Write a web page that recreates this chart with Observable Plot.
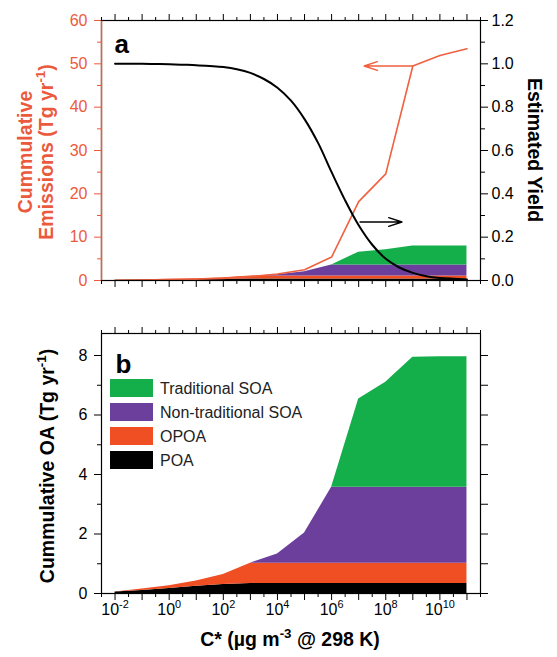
<!DOCTYPE html>
<html><head><meta charset="utf-8">
<script src="https://cdn.jsdelivr.net/npm/d3@7"></script>
<script src="https://cdn.jsdelivr.net/npm/@observablehq/plot@0.6"></script>
<style>
body{margin:0;background:#fff;}
#chart{position:relative;width:557px;height:657px;font-family:"Liberation Sans",Arial,sans-serif;}
#chart svg{display:block;}
</style></head><body><div id="chart"></div>
<script>
// ---- data ----
const logC = [-2,-1,0,1,2,3,4,5,6,7,8,9,10,11];           // log10 C* (µg m-3)
const series = ["POA","OPOA","Non-traditional SOA","Traditional SOA"];
const poa   = [0.05,0.10,0.17,0.24,0.30,0.34,0.34,0.34,0.34,0.34,0.34,0.34,0.34,0.34];
const opoa  = [0.00,0.05,0.09,0.18,0.34,0.68,0.68,0.68,0.68,0.68,0.68,0.68,0.68,0.68];
const ntsoa = [0,0,0,0,0,0,0.31,1.01,2.55,2.55,2.55,2.55,2.55,2.55];
const tsoa  = [0,0,0,0,0,0,0,0,0,2.97,3.53,4.37,4.39,4.39];
const emissions = [0.05,0.12,0.2,0.3,0.5,0.9,1.5,2.5,5.4,18.2,24.6,49.5,51.9,53.5]; // Tg/yr
const yieldLogC = [-2,-1.5,-1,-0.5,0,0.5,1,1.5,2,2.5,3,3.5,4,4.5,5,5.5,6,6.5,7,7.5,8,8.5,9,9.5,10,10.5,11];
const yieldVals = [1,1,1,0.999,0.998,0.996,0.994,0.99,0.985,0.975,0.958,0.93,0.89,0.83,0.745,0.635,0.5,0.37,0.255,0.165,0.1,0.06,0.035,0.02,0.012,0.008,0.005];
const emisArrow  = [{x1: 1e9, x2: 10**7.2, y: 49.5}];     // Tg/yr axis
const yieldArrow = [{x1: 10**7.05, x2: 10**8.6, y: 0.27}]; // yield axis
const colors = ["#000000","#f04e23","#6c3f9c","#14ae4b"];
const legendOrder = ["Traditional SOA","Non-traditional SOA","OPOA","POA"];
const emisTicks = [0,10,20,30,40,50,60];
const emisMinor = [5,15,25,35,45,55];
const yieldTicks = [0,0.2,0.4,0.6,0.8,1.0,1.2];
const yieldMinor = [0.1,0.3,0.5,0.7,0.9,1.1];
const oaTicks = [0,2,4,6,8];
const oaMinor = [1,3,5,7];
const decadeExp = d3.range(-2, 12);
const halfExp = d3.range(-2.5, 11.51, 1);

// ---- derived tables ----
const vals = [poa, opoa, ntsoa, tsoa];
const stacked = series.flatMap((s,i) => logC.map((e,j) => ({C: 10**e, series: s, value: vals[i][j]})));
const emisRows = logC.map((e,j) => ({C: 10**e, v: emissions[j]}));
const yieldScale = 60/1.2;
const yieldRows = yieldLogC.map((e,j) => ({C: 10**e, v: yieldVals[j]*yieldScale}));
const decades = decadeExp.map(e => 10**e);
const halves = halfExp.map(e => 10**e);
const xDomain = [10**-2.5, 10**11.5];
const orange = "#eb5a3c";
const font = "Liberation Sans, Arial, sans-serif";
const tickFs = 16, titleFs = 19.5;

function xAxes(anchor, labels) {
  return [
    Plot.axisX(decades, {anchor, tickSize: 7, tickPadding: 3, label: null, fontSize: tickFs,
      tickFormat: labels ? (d => { const e = Math.round(Math.log10(d)); return e % 2 === 0 ? "10^{" + e + "}" : ""; }) : (() => "")}),
    Plot.axisX(halves, {anchor, tickSize: 4, label: null, tickFormat: () => ""})
  ];
}

function setRich(textEl, str, fs) {
  while (textEl.firstChild) textEl.removeChild(textEl.firstChild);
  const parts = str.split(/(\^\{[^}]*\})/);
  let raised = false;
  for (const p of parts) {
    if (!p) continue;
    const t = document.createElementNS("http://www.w3.org/2000/svg", "tspan");
    if (p.startsWith("^{")) {
      t.textContent = p.slice(2, -1);
      t.setAttribute("font-size", (fs*0.68).toFixed(1));
      t.setAttribute("dy", (-fs*0.42).toFixed(1));
      raised = true;
    } else {
      t.textContent = p;
      if (raised) { t.setAttribute("dy", (fs*0.42).toFixed(1)); raised = false; }
    }
    textEl.appendChild(t);
  }
}
function richify(svg, fs) {
  d3.select(svg).selectAll("text").each(function() {
    const s = this.textContent;
    if (s.includes("^{")) setRich(this, s, fs);
  });
}
function addTitle(svg, str, x, y, rotate, fs, color) {
  const t = d3.select(svg).append("text")
    .attr("transform", `translate(${x},${y}) rotate(${rotate})`)
    .attr("text-anchor", "middle")
    .attr("font-family", font).attr("font-weight", "bold").attr("font-size", fs)
    .attr("fill", color);
  setRich(t.node(), str, fs);
}

// ---- panel a ----
const topPlot = Plot.plot({
  width: 557, height: 300, marginLeft: 101, marginRight: 77, marginTop: 20, marginBottom: 20,
  style: {fontFamily: font, fontSize: tickFs + "px", overflow: "visible", background: "white"},
  x: {type: "log", domain: xDomain, axis: null},
  y: {domain: [0, 60], axis: null},
  color: {domain: series, range: colors},
  marks: [
    Plot.areaY(stacked, {x: "C", y: "value", fill: "series", order: series}),
    Plot.line(emisRows, {x: "C", y: "v", stroke: "#f0603f", strokeWidth: 1.6}),
    Plot.line(yieldRows, {x: "C", y: "v", stroke: "black", strokeWidth: 2, curve: "catmull-rom"}),
    Plot.arrow(emisArrow, {x1: "x1", x2: "x2", y1: "y", y2: "y", stroke: "#f0603f", strokeWidth: 1.4, headLength: 15, headAngle: 36}),
    Plot.arrow(yieldArrow, {x1: "x1", x2: "x2", y1: d => d.y*yieldScale, y2: d => d.y*yieldScale, stroke: "black", strokeWidth: 1.4, headLength: 15, headAngle: 36}),
    Plot.frame({stroke: "black", strokeWidth: 1.2}),
    Plot.ruleX([xDomain[0]], {stroke: orange, strokeWidth: 1.4}),
    ...xAxes("top", false),
    ...xAxes("bottom", false),
    Plot.axisY(emisTicks, {anchor: "left", tickSize: 7, tickPadding: 7, label: null, color: orange, fontSize: tickFs}),
    Plot.axisY(emisMinor, {anchor: "left", tickSize: 4, label: null, color: orange, tickFormat: () => ""}),
    Plot.axisY(yieldTicks.map(v => v*yieldScale), {anchor: "right", tickSize: 7, tickPadding: 4, label: null, fontSize: tickFs, tickFormat: d => (d/yieldScale).toFixed(1)}),
    Plot.axisY(yieldMinor.map(v => v*yieldScale), {anchor: "right", tickSize: 4, label: null, tickFormat: () => ""}),
    Plot.text(["a"], {frameAnchor: "top-left", textAnchor: "start", lineAnchor: "top", dx: 13, dy: 14, fontSize: 26, fontWeight: "bold"})
  ]
});
addTitle(topPlot, "Cummulative", 32, 152, -90, titleFs, orange);
addTitle(topPlot, "Emissions (Tg yr^{-1})", 53, 152, -90, titleFs, orange);
addTitle(topPlot, "Estimated Yield", 528, 150, 90, titleFs, "black");

// ---- panel b ----
const botPlot = Plot.plot({
  width: 557, height: 357, marginLeft: 101, marginRight: 77, marginTop: 33, marginBottom: 64,
  style: {fontFamily: font, fontSize: tickFs + "px", overflow: "visible", background: "white"},
  x: {type: "log", domain: xDomain, axis: null},
  y: {domain: [0, 8.74], axis: null},
  color: {domain: series, range: colors},
  marks: [
    Plot.areaY(stacked, {x: "C", y: "value", fill: "series", order: series}),
    Plot.frame({stroke: "black", strokeWidth: 1.2}),
    ...xAxes("top", false),
    ...xAxes("bottom", true),
    Plot.axisY(oaTicks, {anchor: "left", tickSize: 7, tickPadding: 7, label: null, fontSize: tickFs}),
    Plot.axisY(oaMinor, {anchor: "left", tickSize: 4, label: null, tickFormat: () => ""}),
    Plot.axisY(oaTicks, {anchor: "right", tickSize: 7, label: null, tickFormat: () => ""}),
    Plot.axisY(oaMinor, {anchor: "right", tickSize: 7, label: null, tickFormat: () => ""}),
    Plot.text(["b"], {frameAnchor: "top-left", textAnchor: "start", lineAnchor: "top", dx: 14, dy: 21, fontSize: 26, fontWeight: "bold"})
  ]
});
richify(botPlot, tickFs);
addTitle(botPlot, "Cummulative OA (Tg yr^{-1})", 54, 166, -90, titleFs, "black");
addTitle(botPlot, "C* (\u00b5g m^{-3} @ 298 K)", 290, 346, 0, titleFs, "black");

// legend inside panel b
const lg = d3.select(botPlot).append("g").attr("font-family", font).attr("font-size", 16).attr("text-anchor", "start");
legendOrder.forEach((name, i) => {
  const c = colors[series.indexOf(name)];
  const cy = 88 + i*24;
  lg.append("rect").attr("x", 110).attr("y", cy - 9).attr("width", 43).attr("height", 18).attr("fill", c);
  lg.append("text").attr("x", 160).attr("y", cy).attr("dy", "0.36em").attr("text-anchor", "start").attr("fill", "#222").text(name);
});

const chart = document.getElementById("chart");
chart.appendChild(topPlot);
chart.appendChild(botPlot);
</script></body></html>
